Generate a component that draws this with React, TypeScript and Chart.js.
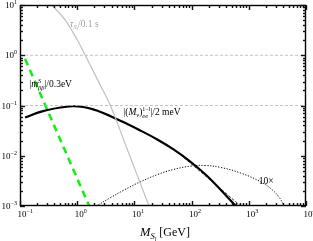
import React, { useEffect, useRef } from "react";
import { Chart, registerables } from "chart.js";

Chart.register(...registerables);

// ---- data ----
const X_MIN = 0.1;
const X_MAX = 1e4;
const Y_MIN = 1e-3;
const Y_MAX = 10;

const X_DECADES = [-1, 0, 1, 2, 3, 4];
const Y_DECADES = [-3, -2, -1, 0, 1];
const MINOR_MULTS = [1, 2, 3, 4, 5, 6, 7, 8, 9];

// tau_{S_l} / 0.1 s  (gray)
const TAU_X = [0.36, 0.615, 1.0, 1.38, 2.25, 3.8, 7.5, 18];
const TAU_Y = [10, 5.05, 2.03, 1.0, 0.331, 0.1, 0.0135, 0.001];

// |m_bb^S| / 0.3 eV  (green dashed)
const MBB_X = [0.1225, 1.62];
const MBB_Y = [0.85, 0.001];

// |(M_nu)_ee^{1-l}| / 2 meV  (thick black)
const MEE_X = [0.1225, 0.253, 0.817, 1.91, 5.68, 12.7, 25.1, 48.3, 96, 191, 592];
const MEE_Y = [0.0578, 0.0773, 0.0966, 0.0836, 0.0495, 0.0318, 0.0211, 0.01337, 0.00757, 0.00385, 0.001];

// asymptote (thin black dashed)
const ASYM_X = [64, 724];
const ASYM_Y = [0.0105, 0.001];

// 10x curve (dotted)
const TENX_X = [2.33, 3.79, 6.41, 12.7, 25.4, 48.3, 96, 176, 323, 724, 1622, 2630, 3500, 4110];
const TENX_Y = [0.00105, 0.00146, 0.00204, 0.00303, 0.00423, 0.00533, 0.00621, 0.0064, 0.00585, 0.00452, 0.00302, 0.00205, 0.00142, 0.001];

// horizontal reference levels (gray dashed)
const REF_LEVELS = [1, 0.1];

const SERIF = '"Liberation Serif", "Times New Roman", serif';

type Seg = { t: string; it?: boolean; sz: number; dy?: number; stack?: boolean };

function drawRich(ctx: CanvasRenderingContext2D, x: number, y: number, segs: Seg[], color: string) {
  ctx.fillStyle = color;
  ctx.textBaseline = "alphabetic";
  ctx.textAlign = "left";
  let cx = x;
  let prevStart = x;
  let prevEnd = x;
  for (const s of segs) {
    ctx.font = `${s.it ? "italic " : ""}${s.sz}px ${SERIF}`;
    const w = ctx.measureText(s.t).width;
    const start = s.stack ? prevStart : cx;
    ctx.fillText(s.t, start, y + (s.dy || 0));
    const end = start + w;
    if (s.stack) {
      cx = Math.max(prevEnd, end);
      prevEnd = cx;
    } else {
      prevStart = start;
      prevEnd = end;
      cx = end;
    }
  }
}

function expText(d: number) {
  return d < 0 ? "\u2212" + String(-d) : String(d);
}

const decor = {
  id: "decor",
  afterDraw(chart: any) {
    const { ctx, chartArea: a, scales } = chart;
    const xs = scales.x;
    const ys = scales.y;
    ctx.save();
    ctx.setLineDash([]);
    ctx.strokeStyle = "#000";
    ctx.fillStyle = "#000";
    ctx.globalAlpha = 1;

    const L = Math.round(a.left);
    const R = Math.round(a.right);
    const T = Math.round(a.top);
    const B = Math.round(a.bottom);

    // frame
    ctx.lineWidth = 1.4;
    ctx.strokeRect(L + 0.5, T + 0.5, R - L - 1, B - T - 1);

    // ticks on all four sides
    ctx.fillStyle = "#111";
    for (const d of X_DECADES) {
      for (const m of MINOR_MULTS) {
        const v = m * Math.pow(10, d);
        if (v < X_MIN * 0.999 || v > X_MAX * 1.001) continue;
        const px = Math.round(xs.getPixelForValue(v));
        const len = m === 1 ? 5 : 3;
        ctx.fillRect(px - 0.2, B - len, 1.4, len);
        ctx.fillRect(px - 0.2, T, 1.4, len);
      }
    }
    for (const d of Y_DECADES) {
      for (const m of MINOR_MULTS) {
        const v = m * Math.pow(10, d);
        if (v < Y_MIN * 0.999 || v > Y_MAX * 1.001) continue;
        const py = Math.round(ys.getPixelForValue(v));
        const len = m === 1 ? 5 : 3;
        ctx.fillRect(L, py - 0.2, len, 1.4);
        ctx.fillRect(R - len, py - 0.2, len, 1.4);
      }
    }

    // tick labels
    ctx.fillStyle = "#000";
    ctx.textAlign = "left";
    ctx.textBaseline = "alphabetic";
    for (const d of X_DECADES) {
      const px = xs.getPixelForValue(Math.pow(10, d));
      ctx.font = `9px ${SERIF}`;
      const w1 = ctx.measureText("10").width;
      const start = px - 2.5;
      ctx.fillText("10", start, B + 11);
      ctx.font = `6px ${SERIF}`;
      ctx.fillText(expText(d), start + w1, B + 7);
    }
    for (const d of Y_DECADES) {
      const py = ys.getPixelForValue(Math.pow(10, d));
      ctx.font = `9px ${SERIF}`;
      const w1 = ctx.measureText("10").width;
      ctx.font = `6px ${SERIF}`;
      const w2 = ctx.measureText(expText(d)).width;
      const start = L - 3 - w1 - w2;
      ctx.font = `9px ${SERIF}`;
      ctx.fillText("10", start, py + 3);
      ctx.font = `6px ${SERIF}`;
      ctx.fillText(expText(d), start + w1, py - 1);
    }

    // in-plot labels anchored in data space
    const P = (x: number, y: number) => [xs.getPixelForValue(x), ys.getPixelForValue(y)];
    let [lx, ly] = P(0.75, 3.66);
    drawRich(ctx, lx, ly, [
      { t: "\u03c4", it: true, sz: 9.5 },
      { t: "S", it: true, sz: 6.5, dy: 2 },
      { t: "l", it: true, sz: 5, dy: 3.5 },
      { t: "/0.1 s", sz: 9.5 },
    ], "#a0a0a0");

    [lx, ly] = P(0.145, 0.238);
    drawRich(ctx, lx, ly, [
      { t: "|", sz: 9.5 },
      { t: "m", it: true, sz: 9.5 },
      { t: "S", it: true, sz: 6.5, dy: -4 },
      { t: "\u03b2\u03b2", it: true, sz: 6.5, dy: 3, stack: true },
      { t: "|/0.3eV", sz: 9.5 },
    ], "#000");

    [lx, ly] = P(6.4, 0.0634);
    drawRich(ctx, lx, ly, [
      { t: "|(", sz: 9.5 },
      { t: "M", it: true, sz: 9.5 },
      { t: "\u03bd", it: true, sz: 6.5, dy: 2 },
      { t: ")", sz: 9.5 },
      { t: "1\u2212l", sz: 6, dy: -4.5 },
      { t: "ee", it: true, sz: 6.5, dy: 2.5, stack: true },
      { t: "|/2 meV", sz: 9.5 },
    ], "#000");

    [lx, ly] = P(1500, 0.00273);
    drawRich(ctx, lx, ly, [{ t: "10\u00d7", sz: 9.5 }], "#000");

    // x axis title
    drawRich(ctx, 140, 236, [
      { t: "M", it: true, sz: 12.5 },
      { t: "S", it: true, sz: 8.5, dy: 2.5 },
      { t: "l", it: true, sz: 6, dy: 4.5 },
      { t: " [GeV]", sz: 12 },
    ], "#000");

    ctx.restore();
  },
};

function pts(xs: number[], ys: number[]) {
  return xs.map((x, i) => ({ x, y: ys[i] }));
}

export default function App() {
  const ref = useRef<HTMLCanvasElement | null>(null);

  useEffect(() => {
    if (!ref.current) return;
    const refSets = REF_LEVELS.map((lv) => ({
      data: pts([X_MIN, X_MAX], [lv, lv]),
      borderColor: "#b4b4b4",
      borderWidth: 0.8,
      borderDash: [3, 2],
      pointRadius: 0,
      showLine: true,
      tension: 0,
    }));
    const chart = new Chart(ref.current, {
      type: "scatter",
      data: {
        datasets: [
          ...refSets,
          {
            data: pts(TAU_X, TAU_Y),
            borderColor: "#c0c0c0",
            borderWidth: 1.2,
            pointRadius: 0,
            showLine: true,
            tension: 0.35,
          },
          {
            data: pts(TENX_X, TENX_Y),
            borderColor: "#000",
            borderWidth: 1,
            borderDash: [1.2, 1.6],
            pointRadius: 0,
            showLine: true,
            tension: 0.4,
          },
          {
            data: pts(ASYM_X, ASYM_Y),
            borderColor: "#000",
            borderWidth: 0.8,
            borderDash: [3, 1.5],
            pointRadius: 0,
            showLine: true,
          },
          {
            data: pts(MEE_X, MEE_Y),
            borderColor: "#000",
            borderWidth: 2.2,
            pointRadius: 0,
            showLine: true,
            tension: 0.4,
          },
          {
            data: pts(MBB_X, MBB_Y),
            borderColor: "#11ee11",
            borderWidth: 2.5,
            borderDash: [7, 5],
            pointRadius: 0,
            showLine: true,
          },
        ] as any,
      },
      options: {
        animation: false,
        responsive: false,
        devicePixelRatio: 1,
        events: [],
        layout: { padding: { left: 0, right: 7, top: 5, bottom: 0 } },
        plugins: { legend: { display: false }, tooltip: { enabled: false }, title: { display: false } },
        scales: {
          x: {
            type: "logarithmic",
            min: X_MIN,
            max: X_MAX,
            grid: { display: false },
            border: { display: false },
            ticks: { display: false },
            afterFit: (s: any) => {
              s.height = 35;
            },
          },
          y: {
            type: "logarithmic",
            min: Y_MIN,
            max: Y_MAX,
            grid: { display: false },
            border: { display: false },
            ticks: { display: false },
            afterFit: (s: any) => {
              s.width = 20;
            },
          },
        },
      } as any,
      plugins: [decor],
    });
    return () => chart.destroy();
  }, []);

  return (
    <div style={{ position: "absolute", left: 0, top: 0, width: 313, height: 241, background: "#fff" }}>
      <canvas ref={ref} width={313} height={241} style={{ display: "block" }} />
    </div>
  );
}
